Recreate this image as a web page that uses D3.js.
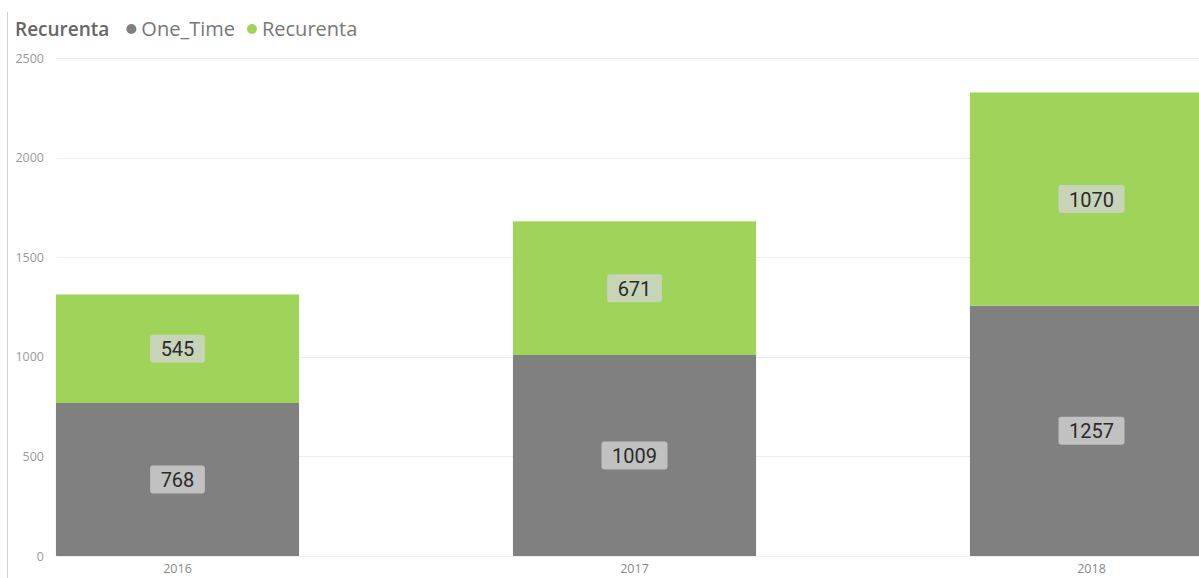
<!DOCTYPE html>
<html><head><meta charset="utf-8">
<script src="https://cdn.jsdelivr.net/npm/d3@7"></script>
<style>body{margin:0;background:#fff;}svg{display:block;}</style>
</head><body>
<svg id="c" width="1199" height="578"></svg>
<script>
const years = ["2016","2017","2018"];
const oneTime = [768, 1009, 1257];
const recurenta = [545, 671, 1070];
const yTicks = [0, 500, 1000, 1500, 2000, 2500];
const seriesNames = ["One_Time", "Recurenta"];
const colors = ["#808080", "#a0d35a"];

const svg = d3.select("#c");
const W = 1199, H = 578;
const y = d3.scaleLinear().domain([0, 2500]).range([556, 58]);
const x = d3.scaleBand().domain(years).range([-51, 1320]).paddingInner(0.468).paddingOuter(0.234);

// left border line
svg.append("line").attr("x1", 7.5).attr("x2", 7.5).attr("y1", 12).attr("y2", H).attr("stroke", "#d0d0d0").attr("stroke-width", 1);

// gridlines
svg.append("g").selectAll("line").data(yTicks).join("line")
  .attr("x1", 57).attr("x2", W)
  .attr("y1", d => Math.round(y(d)) + 0.5).attr("y2", d => Math.round(y(d)) + 0.5)
  .attr("stroke", "#ececec").attr("stroke-width", 1);

// y tick labels
svg.append("g").selectAll("text").data(yTicks).join("text")
  .attr("x", 44).attr("y", d => y(d) + 4.5)
  .attr("text-anchor", "end")
  .attr("font-family", "Open Sans, sans-serif").attr("font-size", 12.5).attr("fill", "#9a9a9a")
  .text(d => d);

// stacked data
const rows = years.map((yr, i) => ({year: yr, One_Time: oneTime[i], Recurenta: recurenta[i]}));
const stack = d3.stack().keys(seriesNames)(rows);

const g = svg.append("g");
stack.forEach((s, si) => {
  g.selectAll(null).data(s).join("rect")
    .attr("x", d => x(d.data.year))
    .attr("width", x.bandwidth())
    .attr("y", d => y(d[1]))
    .attr("height", d => y(d[0]) - y(d[1]))
    .attr("fill", colors[si]);
});

// labels
stack.forEach((s, si) => {
  s.forEach(d => {
    const cx = x(d.data.year) + x.bandwidth() / 2;
    const cy = (y(d[0]) + y(d[1])) / 2;
    const lg = svg.append("g");
    const t = lg.append("text")
      .attr("x", cx).attr("y", cy + 7.5)
      .attr("text-anchor", "middle")
      .attr("font-family", "Roboto, sans-serif").attr("font-size", 20).attr("font-weight", 400)
      .attr("fill", "#2a2a2a")
      .text(d.data[seriesNames[si]]);
    const bb = t.node().getBBox();
    lg.insert("rect", "text")
      .attr("x", cx - bb.width / 2 - 10.5).attr("y", cy - 14)
      .attr("width", bb.width + 21).attr("height", 28)
      .attr("rx", 3)
      .attr("fill", "#d4d4d4").attr("fill-opacity", 0.77);
  });
});

// x labels
svg.append("g").selectAll("text").data(years).join("text")
  .attr("x", d => x(d) + x.bandwidth() / 2).attr("y", 573)
  .attr("text-anchor", "middle")
  .attr("font-family", "Open Sans, sans-serif").attr("font-size", 12.5).attr("fill", "#888")
  .text(d => d);

// legend
const leg = svg.append("g");
const title = leg.append("text").attr("x", 15).attr("y", 36)
  .attr("font-family", "Open Sans, sans-serif").attr("font-size", 19).attr("font-weight", 600).attr("fill", "#666")
  .text("Recurenta");
let lx = 15 + title.node().getComputedTextLength() + 17;
seriesNames.forEach((n, i) => {
  leg.append("circle").attr("cx", lx + 5).attr("cy", 29).attr("r", 5).attr("fill", colors[i]);
  const t = leg.append("text").attr("x", lx + 15).attr("y", 36)
    .attr("font-family", "Open Sans, sans-serif").attr("font-size", 20).attr("fill", "#777")
    .text(n);
  lx += 15 + t.node().getComputedTextLength() + 12;
});
</script>
</body></html>
